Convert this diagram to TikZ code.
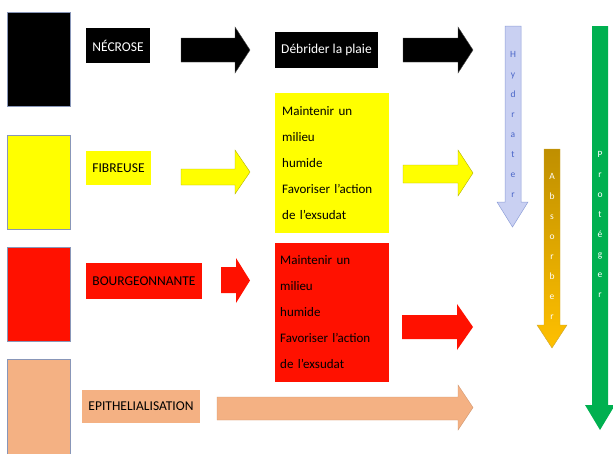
\documentclass[tikz,border=0pt]{standalone}
\usepackage{fontspec}
\setmainfont{Carlito}
\definecolor{cyel}{HTML}{FFFF00}
\definecolor{cred}{HTML}{FF1100}
\definecolor{cpeach}{HTML}{F4B183}
\definecolor{cblue}{HTML}{C9D0F2}
\definecolor{cblueedge}{HTML}{8E9FD8}
\definecolor{cbluetext}{HTML}{4A66C8}
\definecolor{cgoldtop}{HTML}{BF8F00}
\definecolor{cgoldbot}{HTML}{FFC000}
\definecolor{cgreen}{HTML}{00B050}
\definecolor{cedge}{HTML}{8896B8}
\newcommand{\harr}[8]{% x1 x2 xh ys1 ys2 yh1 yh2 style
  \path[#8] (#1,#4) -- (#3,#4) -- (#3,#6) -- (#2,{(#6+#7)/2}) -- (#3,#7) -- (#3,#5) -- (#1,#5) -- cycle;}
\newcommand{\varr}[8]{% xs1 xs2 xh1 xh2 ytop yh ytip style
  \path[#8] (#1,#5) -- (#2,#5) -- (#2,#6) -- (#4,#6) -- ({(#3+#4)/2},#7) -- (#3,#6) -- (#1,#6) -- cycle;}
\begin{document}
\begin{tikzpicture}[x=1pt,y=-1pt,
  sq/.style={draw=cedge,line width=0.6pt},
  lab/.style={inner sep=0pt,font=\fontsize{13.5}{15}\selectfont,align=center},
  mid/.style={anchor=west,inner sep=0pt,text width=105pt,align=left,
     font=\fontsize{13}{26}\selectfont},
  blk/.style={fill=black,draw=black!70},
  vlet/.style={font=\fontsize{9.5}{20}\selectfont,align=center,inner sep=0pt}]
\useasboundingbox (0,0) rectangle (613,453);
% squares
\path[sq,fill=black] (7,12) rectangle (70,106);
\path[sq,fill=cyel] (7,135) rectangle (70,229);
\path[sq,fill=cred] (7,247) rectangle (70,341);
\path[sq,fill=cpeach] (7,359) rectangle (70,460);
% labels
\fill[black] (86,28) rectangle (150,63);
\node[lab,text=white] (necrose) at (118,45.5) {NÉCROSE};
\fill[cyel] (86,151) rectangle (151,185);
\node[lab] (fibreuse) at (118.5,168) {FIBREUSE};
\fill[cred] (86,263) rectangle (202,299);
\node[lab] (bourg) at (144,281) {BOURGEONNANTE};
\fill[cpeach] (82,390) rectangle (200,423);
\node[lab] (epith) at (141,406.5) {EPITHELIALISATION};
% left arrows
\harr{181}{250}{235}{38}{62}{27}{73}{blk}
\harr{181}{250}{235}{169}{185}{150}{194}{fill=cyel,draw=cyel!70!black,line width=0.4pt}
\harr{221}{250}{236}{267}{293}{258}{303}{fill=cred}
\harr{217}{473}{458}{397}{420}{385}{430}{fill=cpeach,draw=cpeach!85!black,line width=0.4pt}
% middle boxes
\fill[black] (275,32) rectangle (378,68);
\node[lab,text=white] (debrider) at (326.5,50) {Débrider la plaie};
\fill[cyel] (275,93) rectangle (389,233);
\node[mid] (fibtxt) at (282,163) {Maintenir un\\milieu\\humide\\Favoriser l’action\\de l’exsudat};
\fill[cred] (275,243) rectangle (389,382);
\node[mid] (bourgtxt) at (280,312.5) {Maintenir un\\milieu\\humide\\Favoriser l’action\\de l’exsudat};
% right arrows
\harr{403}{473}{458}{38}{62}{27}{73}{blk}
\harr{403}{473}{458}{165}{183}{150}{196}{fill=cyel,draw=cyel!70!black,line width=0.4pt}
\harr{402}{473}{457}{315}{339}{304}{350}{fill=cred}
% vertical arrows
\varr{505}{521}{497}{528}{26}{202}{227}{fill=cblue,draw=cblueedge,line width=0.5pt}
\node[vlet,text=cbluetext] (hyd) at (513,124) {H\\y\\d\\r\\a\\t\\e\\r};
\varr{544}{560}{537}{567}{149}{325}{348}{top color=cgoldtop,bottom color=cgoldbot,draw=cgoldtop!80!white,line width=0.4pt}
\node[vlet,text=white] (abs) at (552,246) {A\\b\\s\\o\\r\\b\\e\\r};
\varr{592}{608}{585}{615}{26}{405}{430}{fill=cgreen}
\node[vlet,text=white] (prot) at (600,224) {P\\r\\o\\t\\é\\g\\e\\r};
\end{tikzpicture}
\end{document}
